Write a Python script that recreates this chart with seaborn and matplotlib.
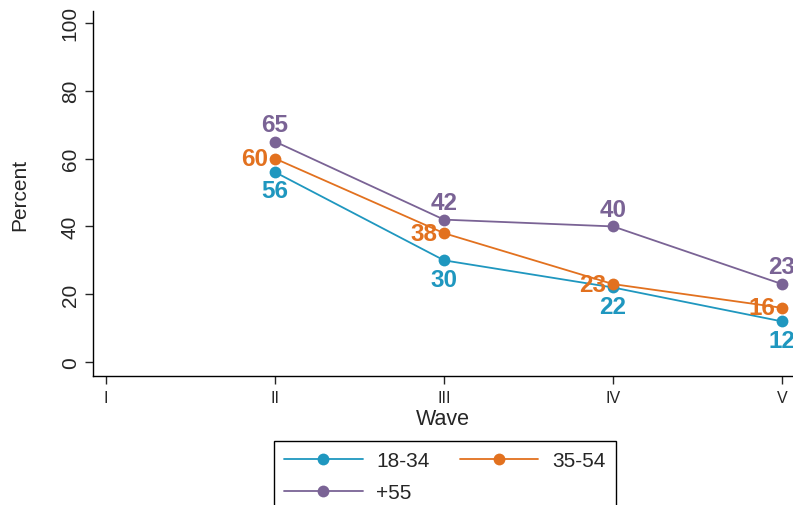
import pandas as pd
import matplotlib.pyplot as plt
import seaborn as sns

# Data
waves = ['I', 'II', 'III', 'IV', 'V']
groups = ['18-34', '35-54', '+55']
wave_idx = [2, 3, 4, 5]
young = [56, 30, 22, 12]
middle = [60, 38, 23, 16]
older = [65, 42, 40, 23]
colors = ['#1f97bf', '#e2711f', '#7a6395']

rows = []
for grp, vals in zip(groups, [young, middle, older]):
    for w, v in zip(wave_idx, vals):
        rows.append({'wave': w, 'percent': v, 'group': grp})
df = pd.DataFrame(rows)

sns.set_style('ticks')
plt.rcParams['font.family'] = ['Liberation Sans', 'DejaVu Sans']

fig = plt.figure(figsize=(7.93, 5.06), dpi=100)
ax = fig.add_axes([0.1173, 0.2549, 0.8827, 0.7214])

sns.lineplot(
    data=df, x='wave', y='percent', hue='group', hue_order=groups,
    palette=colors, marker='o', markersize=8.5, markeredgewidth=0,
    linewidth=1.3, ax=ax, legend=True)

# value labels: purple above, orange left, teal below
offsets = {'18-34': dict(xytext=(0, -13.5), ha='center'),
           '35-54': dict(xytext=(-5, 0), ha='right'),
           '+55': dict(xytext=(0, 12.5), ha='center')}
for grp, vals, col in zip(groups, [young, middle, older], colors):
    for w, v in zip(wave_idx, vals):
        ax.annotate(str(v), (w, v), textcoords='offset points',
                    va='center', color=col, fontsize=17.5, fontweight='bold',
                    annotation_clip=False, **offsets[grp])

ax.set_xlim(0.923, 5.065)
ax.set_ylim(-4.1, 103.5)
ax.set_xticks(range(1, 6))
ax.set_xticklabels(waves)
ax.set_yticks(range(0, 101, 20))
ax.tick_params(axis='y', labelrotation=90, labelsize=15, length=6, width=1)
ax.tick_params(axis='x', labelsize=11.5, length=6, width=1, pad=4)
for lab in ax.get_yticklabels():
    lab.set_va('center')
ax.set_xlabel('Wave', fontsize=15.5, labelpad=2)
ax.set_ylabel('Percent', fontsize=15, labelpad=23)
sns.despine(ax=ax)
for s in ['left', 'bottom']:
    ax.spines[s].set_color('black')
    ax.spines[s].set_linewidth(1)

handles, labels = ax.get_legend_handles_labels()
ax.get_legend().remove()
order = [0, 2, 1]  # row-wise: 18-34, 35-54 / +55
leg = fig.legend(
    [handles[i] for i in order], [labels[i] for i in order],
    ncol=2, loc='upper left', mode='expand',
    bbox_to_anchor=(0.3455, -0.2, 0.431, 0.3265), fontsize=15,
    frameon=True, fancybox=False, edgecolor='black', framealpha=1,
    handlelength=3.75, handletextpad=0.67, labelspacing=0.6,
    borderpad=0.5, borderaxespad=0)
leg.get_frame().set_linewidth(1)

fig.savefig('out.png', dpi=100)
